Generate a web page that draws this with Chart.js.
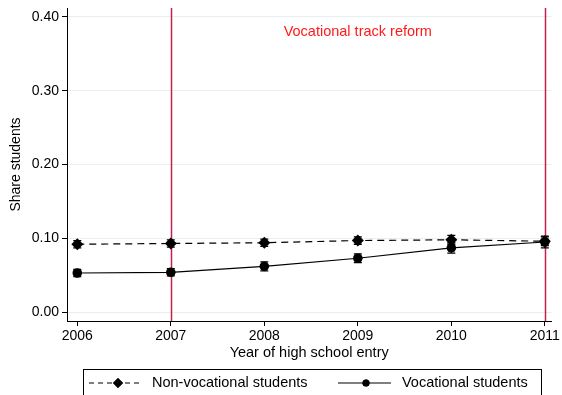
<!DOCTYPE html>
<html>
<head>
<meta charset="utf-8">
<script src="https://cdn.jsdelivr.net/npm/chart.js@4/dist/chart.umd.min.js"></script>
<style>
  html, body { margin: 0; padding: 0; background: #fff; }
  #wrap { width: 562px; height: 395px; }
</style>
</head>
<body>
<div id="wrap"><canvas id="chart"></canvas></div>
<script>
// Share of students by year of high school entry, with 95% CIs
const years = [2006, 2007, 2008, 2009, 2010, 2011];
const nonVoc    = [0.092, 0.093, 0.094, 0.097, 0.098, 0.096];
const nonVocErr = [0.005, 0.005, 0.005, 0.005, 0.006, 0.006];
const voc       = [0.053, 0.054, 0.062, 0.073, 0.087, 0.095];
const vocErr    = [0.005, 0.005, 0.006, 0.006, 0.007, 0.008];
const yTicks = [0, 0.1, 0.2, 0.3, 0.4];
const reformYears = [2007, 2011];
const reformLabel = 'Vocational track reform';
const reformLabelPos = { x: 2009.0, y: 0.38 };

const FONT = 'Liberation Sans, Arial, Helvetica, sans-serif';
const RED_LINE = '#c8204c';

const toPts = (vals, errs) => years.map((x, i) => ({ x, y: vals[i], lo: vals[i] - errs[i], hi: vals[i] + errs[i] }));

// error bars, reform lines, annotation and boxed legend
const extras = {
  id: 'extras',
  beforeDatasetsDraw(chart) {
    const { ctx, chartArea: a, scales: { x, y } } = chart;
    ctx.save();
    ctx.strokeStyle = RED_LINE;
    ctx.lineWidth = 1.5;
    reformYears.forEach(yr => {
      const px = Math.round(x.getPixelForValue(yr)) + 0.5;
      ctx.beginPath(); ctx.moveTo(px, a.top); ctx.lineTo(px, a.bottom); ctx.stroke();
    });
    ctx.fillStyle = '#ff1a1a';
    ctx.font = '14.5px ' + FONT;
    ctx.textAlign = 'center';
    ctx.textBaseline = 'middle';
    ctx.fillText(reformLabel, x.getPixelForValue(reformLabelPos.x), y.getPixelForValue(reformLabelPos.y));
    ctx.restore();
  },
  afterDatasetsDraw(chart) {
    const { ctx, scales: { x, y } } = chart;
    ctx.save();
    ctx.strokeStyle = '#000';
    ctx.lineWidth = 1.3;
    chart.data.datasets.forEach(ds => {
      ds.data.forEach(p => {
        const px = x.getPixelForValue(p.x);
        const t = y.getPixelForValue(p.hi), b = y.getPixelForValue(p.lo);
        ctx.beginPath();
        ctx.moveTo(px, t); ctx.lineTo(px, b);
        ctx.moveTo(px - 4, t); ctx.lineTo(px + 4, t);
        ctx.moveTo(px - 4, b); ctx.lineTo(px + 4, b);
        ctx.stroke();
      });
    });
    ctx.restore();
  },
  afterDraw(chart) {
    const { ctx } = chart;
    ctx.save();
    ctx.strokeStyle = '#000';
    ctx.lineWidth = 1;
    ctx.strokeRect(83.5, 369.5, 458, 40);
    const cy = 383;
    const items = [
      { x0: 89, x1: 143, mx: 118, tx: 152, ds: chart.data.datasets[0], dash: [5, 4], style: 'rectRot', r: 5 },
      { x0: 338, x1: 391, mx: 366, tx: 402, ds: chart.data.datasets[1], dash: [], style: 'circle', r: 3.5 }
    ];
    ctx.font = '14.5px ' + FONT;
    ctx.textBaseline = 'middle';
    ctx.textAlign = 'left';
    items.forEach(it => {
      ctx.setLineDash(it.dash);
      ctx.lineWidth = 1.2;
      ctx.beginPath(); ctx.moveTo(it.x0, cy); ctx.lineTo(it.x1, cy); ctx.stroke();
      ctx.setLineDash([]);
      ctx.fillStyle = '#000';
      Chart.helpers.drawPoint(ctx, { pointStyle: it.style, radius: it.r, borderWidth: 0 }, it.mx, cy);
      ctx.fill();
      ctx.fillText(it.ds.label, it.tx, cy);
    });
    ctx.restore();
  }
};

new Chart(document.getElementById('chart'), {
  type: 'line',
  data: {
    datasets: [
      {
        label: 'Non-vocational students',
        data: toPts(nonVoc, nonVocErr),
        borderColor: '#000', backgroundColor: '#000',
        borderWidth: 1.2, borderDash: [7, 5],
        pointStyle: 'rectRot', pointRadius: 6, pointBorderWidth: 0
      },
      {
        label: 'Vocational students',
        data: toPts(voc, vocErr),
        borderColor: '#000', backgroundColor: '#000',
        borderWidth: 1.2,
        pointStyle: 'circle', pointRadius: 4.8, pointBorderWidth: 0
      }
    ]
  },
  options: {
    responsive: true,
    maintainAspectRatio: false,
    animation: false,
    layout: { padding: { top: 0, right: 9, bottom: 26, left: 0 } },
    plugins: { legend: { display: false }, tooltip: { enabled: false } },
    scales: {
      x: {
        type: 'linear', min: 2005.89, max: 2011.07,
        afterBuildTicks: s => { s.ticks = years.map(v => ({ value: v })); },
        afterFit: s => { s.height = 48; },
        border: { color: '#000', width: 1 },
        grid: { color: 'rgba(0,0,0,0)', tickColor: '#000', tickLength: 5, drawOnChartArea: false },
        ticks: { color: '#000', font: { family: FONT, size: 14 }, padding: 2, callback: v => String(v) },
        title: { display: true, text: 'Year of high school entry', color: '#000', font: { family: FONT, size: 14.5 }, padding: { top: 0, bottom: 7 } }
      },
      y: {
        min: -0.012, max: 0.412,
        afterBuildTicks: s => { s.ticks = yTicks.map(v => ({ value: v })); },
        afterFit: s => { s.width = 67; s.paddingTop = 8; },
        border: { color: '#000', width: 1 },
        grid: { color: '#e6eff1', tickColor: '#000', tickLength: 5 },
        ticks: { color: '#000', font: { family: FONT, size: 14, lineHeight: 1 }, padding: 3, callback: v => v.toFixed(2) },
        title: { display: true, text: 'Share students', color: '#000', font: { family: FONT, size: 14 }, padding: { top: 8, bottom: 0 } }
      }
    }
  },
  plugins: [extras]
});
</script>
</body>
</html>
